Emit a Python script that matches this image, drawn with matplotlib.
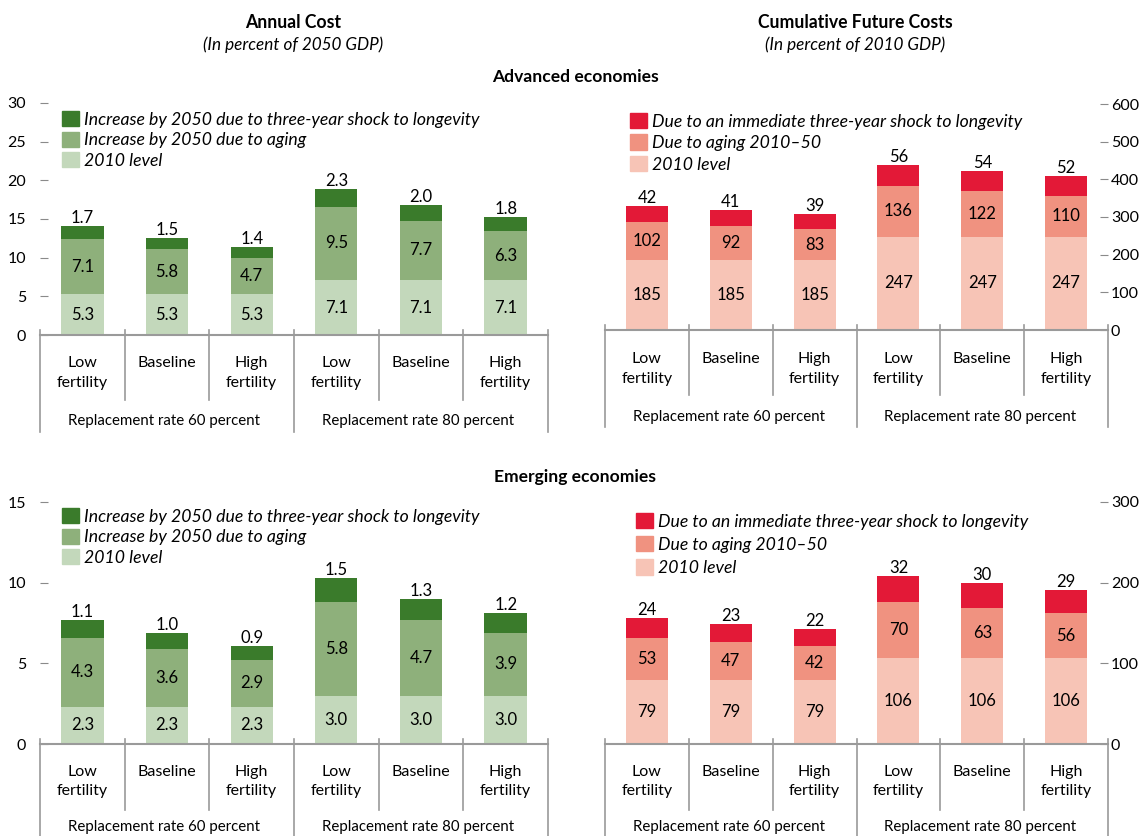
import matplotlib
matplotlib.use('Agg')
import matplotlib.pyplot as plt
import numpy as np
from matplotlib.patches import Patch
from matplotlib.transforms import blended_transform_factory

plt.rcParams['font.family'] = ['Lato', 'DejaVu Sans']

# ---- data ----
scenarios = ['Low\nfertility', 'Baseline', 'High\nfertility'] * 2
groups = ['Replacement rate 60 percent', 'Replacement rate 80 percent']

adv_annual_base = [5.3, 5.3, 5.3, 7.1, 7.1, 7.1]
adv_annual_aging = [7.1, 5.8, 4.7, 9.5, 7.7, 6.3]
adv_annual_shock = [1.7, 1.5, 1.4, 2.3, 2.0, 1.8]

adv_cum_base = [185, 185, 185, 247, 247, 247]
adv_cum_aging = [102, 92, 83, 136, 122, 110]
adv_cum_shock = [42, 41, 39, 56, 54, 52]

em_annual_base = [2.3, 2.3, 2.3, 3.0, 3.0, 3.0]
em_annual_aging = [4.3, 3.6, 2.9, 5.8, 4.7, 3.9]
em_annual_shock = [1.1, 1.0, 0.9, 1.5, 1.3, 1.2]

em_cum_base = [79, 79, 79, 106, 106, 106]
em_cum_aging = [53, 47, 42, 70, 63, 56]
em_cum_shock = [24, 23, 22, 32, 30, 29]

annual_labels = ['Increase by 2050 due to three-year shock to longevity',
                 'Increase by 2050 due to aging', '2010 level']
cum_labels = ['Due to an immediate three-year shock to longevity',
              'Due to aging 2010\u201350', '2010 level']

greens = ['#c3d8bb', '#8eb07b', '#3a7b2b']
reds = ['#f7c4b6', '#f09280', '#e31937']

W, H = 1141, 836
fig = plt.figure(figsize=(W / 100, H / 100), dpi=100)


def px_axes(x0, ytop, x1, ybot):
    return fig.add_axes([x0 / W, 1 - ybot / H, (x1 - x0) / W, (ybot - ytop) / H])


def panel(ax, base, aging, shock, colors, ymax, step, fmt, right, short_px, long_px,
          lab_px, grp_px):
    x = np.arange(len(base))
    base = np.array(base); aging = np.array(aging); shock = np.array(shock)
    ax.bar(x, base, 0.5, color=colors[0])
    ax.bar(x, aging, 0.5, bottom=base, color=colors[1])
    ax.bar(x, shock, 0.5, bottom=base + aging, color=colors[2])
    for i in range(len(x)):
        ax.text(x[i], base[i] / 2, format(base[i], fmt), ha='center', va='center', fontsize=12)
        ax.text(x[i], base[i] + aging[i] / 2, format(aging[i], fmt), ha='center', va='center',
                fontsize=12)
        ax.text(x[i], base[i] + aging[i] + shock[i], format(shock[i], fmt), ha='center',
                va='bottom', fontsize=12)
    ax.set_xlim(-0.5, len(x) - 0.5)
    ax.set_ylim(0, ymax)
    ax.set_yticks(np.arange(0, ymax + 1e-9, step))
    ax.set_xticks([])
    for s in ['top', 'left', 'right']:
        ax.spines[s].set_visible(False)
    ax.spines['bottom'].set_color('#9a9a9a')
    ax.spines['bottom'].set_linewidth(1.5)
    ax.tick_params(axis='y', direction='in', length=6, color='#8a8a8a', labelsize=11.5,
                   pad=10 if not right else 2, left=not right, labelleft=not right,
                   right=right, labelright=right)
    # separators and category labels below the axis
    hpx = ax.get_position().height * H
    tr = blended_transform_factory(ax.transData, ax.transAxes)
    for b in np.arange(-0.5, len(x), 1.0):
        depth = long_px if b in (-0.5, 2.5, 5.5) else short_px
        ax.plot([b, b], [5 / hpx, -depth / hpx], color='#9a9a9a', lw=1.2,
                transform=tr, clip_on=False)
    for i in range(len(x)):
        ax.text(x[i], -lab_px / hpx, scenarios[i], transform=tr, ha='center', va='top',
                fontsize=11.5, linespacing=1.5)
    for g, start in zip(groups, [-0.5, 2.5]):
        ax.text(start + 0.33, -grp_px / hpx, g, transform=tr, ha='left', va='center',
                fontsize=10.8)


def legend(ax, colors, labels, x, y, spacing):
    handles = [Patch(color=colors[2]), Patch(color=colors[1]), Patch(color=colors[0])]
    ax.legend(handles, labels, loc='upper left', bbox_to_anchor=(x / W, 1 - y / H),
              bbox_transform=fig.transFigure, frameon=False, handlelength=0.95,
              handleheight=0.95, handletextpad=0.3, labelspacing=spacing, borderpad=0,
              borderaxespad=0, prop={'family': 'Lato', 'style': 'italic', 'size': 12.7})


ax1 = px_axes(40, 103, 548, 335)
panel(ax1, adv_annual_base, adv_annual_aging, adv_annual_shock, greens, 30, 5, '.1f',
      False, 65, 97, 21, 86)
legend(ax1, greens, annual_labels, 62, 111, 0.22)

ax2 = px_axes(605, 104, 1108, 330)
panel(ax2, adv_cum_base, adv_cum_aging, adv_cum_shock, reds, 600, 100, '.0f',
      True, 65, 97, 22, 87)
legend(ax2, reds, cum_labels, 630, 113, 0.27)

ax3 = px_axes(40, 502, 548, 744)
panel(ax3, em_annual_base, em_annual_aging, em_annual_shock, greens, 15, 5, '.1f',
      False, 66, 100, 21, 83)
legend(ax3, greens, annual_labels, 62, 508, 0.22)

ax4 = px_axes(605, 502, 1108, 744)
panel(ax4, em_cum_base, em_cum_aging, em_cum_shock, reds, 300, 100, '.0f',
      True, 66, 100, 21, 83)
legend(ax4, reds, cum_labels, 636, 513, 0.37)

# titles
fig.text(293 / W, 1 - 22 / H, 'Annual Cost', ha='center', va='center', fontsize=12.7,
         fontweight='bold')
fig.text(293 / W, 1 - 45 / H, '(In percent of 2050 GDP)', ha='center', va='center',
         fontsize=12.3, style='italic')
fig.text(855 / W, 1 - 22 / H, 'Cumulative Future Costs', ha='center', va='center',
         fontsize=12.7, fontweight='bold')
fig.text(855 / W, 1 - 45 / H, '(In percent of 2010 GDP)', ha='center', va='center',
         fontsize=12.3, style='italic')
fig.text(575 / W, 1 - 77 / H, 'Advanced economies', ha='center', va='center',
         fontsize=12.6, fontweight='bold')
fig.text(575 / W, 1 - 477 / H, 'Emerging economies', ha='center', va='center',
         fontsize=12.6, fontweight='bold')

fig.savefig('out.png', dpi=100)
